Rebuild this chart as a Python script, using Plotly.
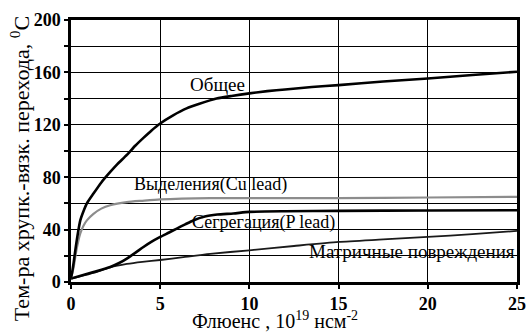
import plotly.graph_objects as go

# Data
total_x = [0, 0.06, 0.15, 0.24, 0.36, 0.52, 0.7, 0.89, 1.26, 1.7, 2.2, 2.6, 3.13, 3.6, 4.06, 4.5, 5.0, 5.7, 6.48, 7.2, 8.16, 9, 10, 11, 12, 13.5, 15, 17.5, 20, 22.5, 25]
total_y = [3, 7, 15, 24, 35, 47, 54, 60, 67.5, 76, 84, 90, 97, 104, 110, 115.5, 121, 127, 132.5, 136, 140, 142, 144, 145.7, 147, 148.8, 150.3, 153, 155.4, 158, 160.5]

cu_x = [0, 0.15, 0.3, 0.52, 0.7, 0.89, 1.26, 1.7, 2.2, 3.13, 4, 5, 7.8, 10, 15, 20, 25]
cu_y = [3, 11.5, 24, 37, 43, 47, 52, 56, 58.6, 61, 62, 63, 64, 64, 64, 64.5, 65]

p_x = [0, 1.26, 2.2, 2.7, 3.13, 3.6, 4.06, 4.5, 5.0, 5.5, 5.93, 6.4, 6.85, 7.5, 8.2, 9.1, 10, 12, 15, 20, 25]
p_y = [2.6, 7.6, 11.5, 14.5, 17.9, 22.2, 26.7, 30.6, 34.4, 37.8, 40.8, 44, 47, 50, 51.5, 52.3, 53.5, 54, 54.3, 54.6, 54.8]

m_x = [0, 1.26, 2.2, 3.13, 4, 5, 6.3, 7.8, 10, 12.5, 15, 17.5, 20, 22.5, 25]
m_y = [2.6, 7, 11.2, 13.8, 15.4, 16.8, 19, 21.5, 24.2, 27.5, 30.6, 32.5, 34.4, 36.5, 39]

labels = ["Общее", "Выделения(Cu lead)", "Сегрегация(P lead)", "Матричные повреждения"]
label_x = [8.2, 7.8, 10.8, 19.1]
label_y = [151, 74.7, 45.6, 23.1]

x_ticks = [0, 5, 10, 15, 20, 25]
y_ticks = [0, 40, 80, 120, 160, 200]

x_title = "Флюенс , 10<sup>19</sup> нсм<sup>-2</sup>"
y_title = "Тем-ра хрупк.-вязк. перехода, <sup>0</sup>C"

FONT = "Liberation Serif"
label_sizes = {"Общее": 19, "Матричные повреждения": 19}

fig = go.Figure()
fig.add_trace(go.Scatter(x=m_x, y=m_y, mode="lines", line=dict(color="#1a1a1a", width=1.8, shape="spline", smoothing=0.6), showlegend=False))
fig.add_trace(go.Scatter(x=p_x, y=p_y, mode="lines", line=dict(color="black", width=2.6, shape="spline", smoothing=0.6), showlegend=False))
fig.add_trace(go.Scatter(x=cu_x, y=cu_y, mode="lines", line=dict(color="#8c8c8c", width=2.2, shape="spline", smoothing=0.6), showlegend=False))
fig.add_trace(go.Scatter(x=total_x, y=total_y, mode="lines", line=dict(color="black", width=2.6, shape="spline", smoothing=0.6), showlegend=False))

for t, xx, yy in zip(labels, label_x, label_y):
    fig.add_annotation(x=xx, y=yy, xref="x", yref="y", text=t, showarrow=False,
                       font=dict(family=FONT, size=label_sizes.get(t, 18), color="black"))

# axis titles as free text so they can sit exactly where the reference has them
fig.add_annotation(x=-0.114, y=0.431, xref="paper", yref="paper", text=y_title, textangle=-90,
                   showarrow=False, xanchor="center", yanchor="middle",
                   font=dict(family=FONT, size=22, color="black"))
fig.add_annotation(x=0.457, y=-0.197, xref="paper", yref="paper", text=x_title,
                   showarrow=False, xanchor="center", yanchor="bottom",
                   font=dict(family=FONT, size=20, color="black"))

fig.update_layout(
    width=529, height=335,
    margin=dict(l=71, r=12, t=20, b=53),
    paper_bgcolor="white", plot_bgcolor="white",
    font=dict(family=FONT, color="black"),
)
fig.update_xaxes(
    range=[0, 25], tickvals=x_ticks, ticktext=["<b>%d</b>" % v for v in x_ticks],
    ticks="outside", ticklen=4, tickwidth=1.5, tickcolor="black", ticklabeloverflow="allow",
    showgrid=True, gridcolor="black", gridwidth=1.3,
    showline=True, linecolor="black", linewidth=2.5, mirror=True,
    zeroline=False, automargin=False,
    tickfont=dict(family=FONT, size=18, color="black"),
)
fig.update_yaxes(
    range=[0, 200], tickvals=y_ticks, ticktext=["<b>%d</b>" % v for v in y_ticks],
    ticks="outside", ticklen=4, tickwidth=1.5, tickcolor="black", ticklabeloverflow="allow",
    showgrid=True, gridcolor="black", gridwidth=1.3,
    minor=dict(dtick=20, showgrid=True, gridcolor="black", gridwidth=1.3, ticks="outside", ticklen=4, tickcolor="black", tickwidth=1.5),
    showline=True, linecolor="black", linewidth=2.5, mirror=True,
    zeroline=False, automargin=False,
    tickfont=dict(family=FONT, size=18, color="black"),
)

fig.write_html("out.html")
